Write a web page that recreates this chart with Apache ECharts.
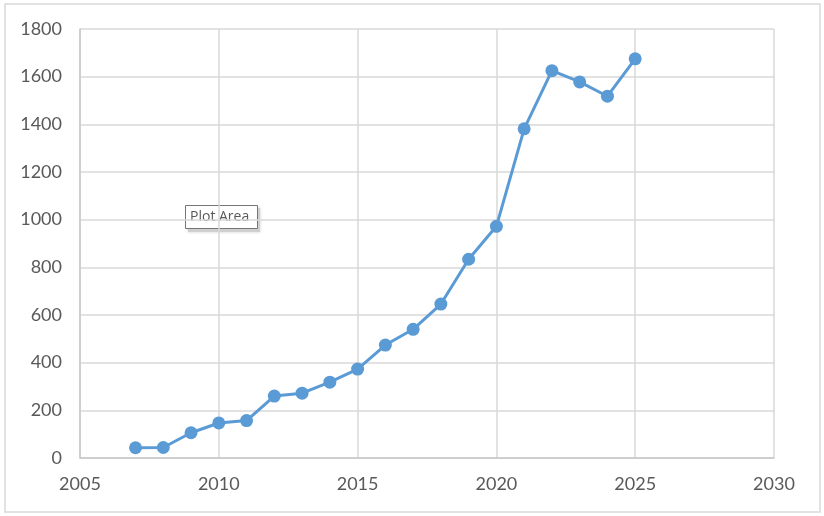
<!DOCTYPE html>
<html>
<head>
<meta charset="utf-8">
<script src="https://cdn.jsdelivr.net/npm/echarts@6/dist/echarts.min.js"></script>
<style>
html,body{margin:0;padding:0;background:#fff;}
#chart{width:824px;height:516px;}
</style>
</head>
<body>
<div id="chart"></div>
<script>
const years = [2007,2008,2009,2010,2011,2012,2013,2014,2015,2016,2017,2018,2019,2020,2021,2022,2023,2024,2025];
const values = [43,44,106,147,157,260,272,318,373,474,540,646,834,972,1381,1625,1578,1518,1675];
const xTicks = [2005,2010,2015,2020,2025,2030];
const yTicks = [0,200,400,600,800,1000,1200,1400,1600,1800];

const chart = echarts.init(document.getElementById('chart'), null, {renderer:'canvas'});
const font = 'Lato, "Open Sans", sans-serif';
chart.setOption({
  animation:false,
  backgroundColor:'#ffffff',
  grid:{left:80,right:50,top:29,bottom:58,containLabel:false},
  xAxis:{
    type:'value', min:xTicks[0], max:xTicks[xTicks.length-1], interval:5,
    axisLine:{show:true,lineStyle:{color:'#C8C8C8',width:1.5}},
    axisTick:{show:false},
    splitLine:{show:true,lineStyle:{color:'#D9D9D9',width:1.5}},
    axisLabel:{color:'#595959',fontSize:18,fontFamily:font,margin:17,showMaxLabel:true,showMinLabel:true,
      formatter:v=>String(v)}
  },
  yAxis:{
    type:'value', min:yTicks[0], max:yTicks[yTicks.length-1], interval:200,
    axisLine:{show:true,lineStyle:{color:'#C8C8C8',width:1.5}},
    axisTick:{show:false},
    splitLine:{show:true,lineStyle:{color:'#D9D9D9',width:1.5}},
    axisLabel:{color:'#595959',fontSize:18,fontFamily:font,margin:18,formatter:v=>String(v)}
  },
  series:[{
    type:'line',
    data:years.map((y,i)=>[y,values[i]]),
    symbol:'circle', symbolSize:13,
    lineStyle:{color:'#5B9BD5',width:3},
    itemStyle:{color:'#5B9BD5'}
  }],
  graphic:[
    {type:'rect',shape:{x:5,y:4,width:815,height:508},style:{fill:'none',stroke:'#D9D9D9',lineWidth:1.5},silent:true},
    {type:'rect',shape:{x:188,y:208,width:72,height:24},style:{fill:'#d0d0d0',stroke:null,shadowBlur:3,shadowColor:'rgba(0,0,0,0.2)'},silent:true},
    {type:'rect',shape:{x:185.5,y:205.5,width:72,height:23},style:{fill:'#ffffff',stroke:'#767676',lineWidth:1},silent:true},
    {type:'text',x:190,y:217.5,style:{text:'Plot Area',fill:'#575757',fontSize:14,fontFamily:'"Open Sans", sans-serif',verticalAlign:'middle',align:'left'},silent:true}
  ]
});
</script>
</body>
</html>
